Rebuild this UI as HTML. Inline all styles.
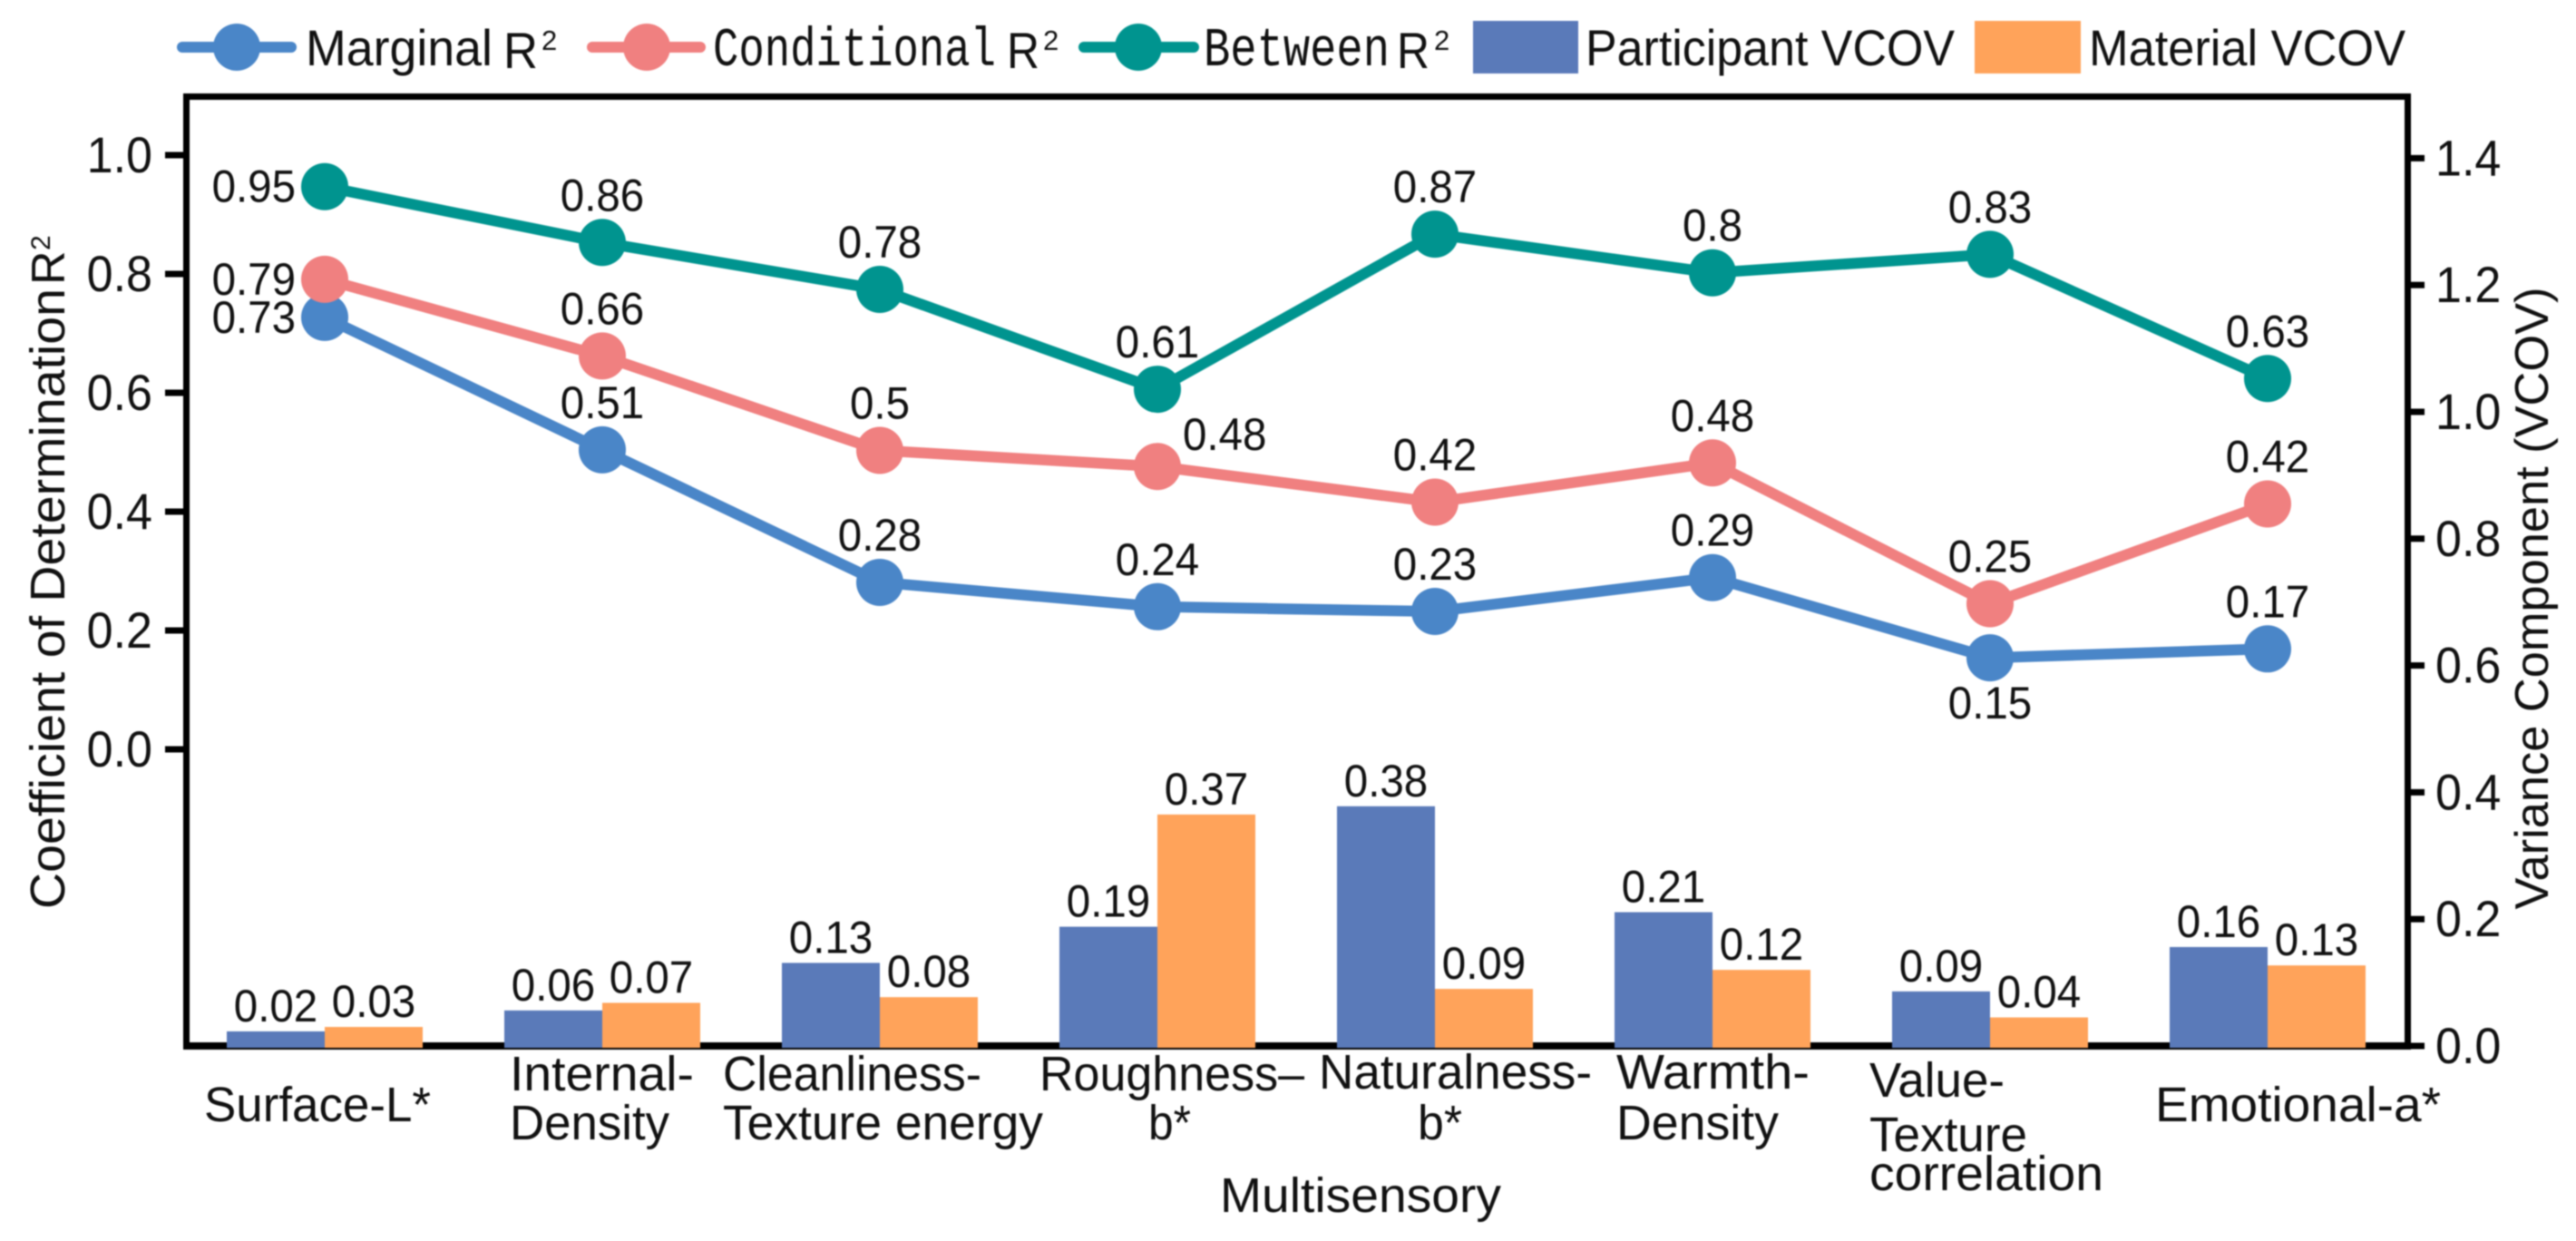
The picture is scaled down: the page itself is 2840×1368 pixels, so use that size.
<!DOCTYPE html>
<html lang="en">
<head>
<meta charset="utf-8">
<title>Multisensory R² and variance components</title>
<style>
html,body{margin:0;padding:0;background:#fff;width:2840px;height:1368px;overflow:hidden}
svg{display:block;filter:blur(0.7px)}
text{font-family:"Liberation Sans",sans-serif;fill:#111}
.mono{font-family:"Liberation Mono",monospace}
</style>
</head>
<body>
<svg id="chart" xmlns="http://www.w3.org/2000/svg" width="2840" height="1368" viewBox="0 0 2840 1368">
  <g id="axes">
    <rect x="202" y="103" width="2456" height="7" fill="#000"/>
    <rect x="202" y="103" width="7" height="1054" fill="#000"/>
    <rect x="2651" y="103" width="7" height="1054" fill="#000"/>
    <rect x="202" y="1149" width="2456" height="8" fill="#000"/>
  </g>
  <g id="left-ticks"></g>
  <g id="right-ticks"></g>
  <g id="bars-top"></g>
  <g id="lines"></g>
  <g id="labels"></g>

  <text transform="translate(71,1002) rotate(-90)" font-size="54" textLength="684" lengthAdjust="spacingAndGlyphs">Coefficient of Determination</text>
  <text transform="translate(71,314) rotate(-90)" font-size="52">R</text>
  <text transform="translate(55,276) rotate(-90)" font-size="30">2</text>
  <text transform="translate(2809,1002.5) rotate(-90)" font-size="52" textLength="686" lengthAdjust="spacingAndGlyphs">Variance Component (VCOV)</text>
  <text x="1345" y="1336" font-size="54" textLength="310" lengthAdjust="spacingAndGlyphs">Multisensory</text>

  <g font-size="54">
    <text x="225" y="1236" textLength="250" lengthAdjust="spacingAndGlyphs">Surface-L*</text>
    <text x="562" y="1202" textLength="203" lengthAdjust="spacingAndGlyphs">Internal-</text>
    <text x="562" y="1256" textLength="176" lengthAdjust="spacingAndGlyphs">Density</text>
    <text x="797" y="1202" textLength="285" lengthAdjust="spacingAndGlyphs">Cleanliness-</text>
    <text x="797" y="1256" textLength="353" lengthAdjust="spacingAndGlyphs">Texture energy</text>
    <text x="1146" y="1202" textLength="292" lengthAdjust="spacingAndGlyphs">Roughness–</text>
    <text x="1266" y="1256" textLength="47" lengthAdjust="spacingAndGlyphs">b*</text>
    <text x="1454" y="1200" textLength="301" lengthAdjust="spacingAndGlyphs">Naturalness-</text>
    <text x="1563" y="1256" textLength="49" lengthAdjust="spacingAndGlyphs">b*</text>
    <text x="1782" y="1200" textLength="213" lengthAdjust="spacingAndGlyphs">Warmth-</text>
    <text x="1782" y="1256" textLength="179" lengthAdjust="spacingAndGlyphs">Density</text>
    <text x="2061" y="1209" textLength="149" lengthAdjust="spacingAndGlyphs">Value-</text>
    <text x="2061" y="1269" textLength="174" lengthAdjust="spacingAndGlyphs">Texture</text>
    <text x="2061" y="1312" textLength="258" lengthAdjust="spacingAndGlyphs">correlation</text>
    <text x="2376" y="1236" textLength="315" lengthAdjust="spacingAndGlyphs">Emotional-a*</text>
  </g>

  <g>
    <g>
      <line x1="201" y1="52" x2="321" y2="52" stroke="#4a86c8" stroke-width="12" stroke-linecap="round"/>
      <circle cx="261" cy="52" r="26" fill="#4a86c8"/>
      <text x="337" y="72" font-size="56" textLength="206" lengthAdjust="spacingAndGlyphs">Marginal</text>
      <text x="555" y="75" font-size="56" textLength="38" lengthAdjust="spacingAndGlyphs">R</text>
      <text x="597" y="55" font-size="31">2</text>
    </g>
    <g>
      <line x1="653" y1="52" x2="772" y2="52" stroke="#f08080" stroke-width="12" stroke-linecap="round"/>
      <circle cx="713" cy="52" r="26" fill="#f08080"/>
      <text class="mono" x="786" y="72" font-size="60" textLength="312" lengthAdjust="spacingAndGlyphs">Conditional</text>
      <text x="1110" y="75" font-size="56" textLength="36" lengthAdjust="spacingAndGlyphs">R</text>
      <text x="1150" y="55" font-size="31">2</text>
    </g>
    <g>
      <line x1="1195" y1="52" x2="1316" y2="52" stroke="#00948f" stroke-width="12" stroke-linecap="round"/>
      <circle cx="1255" cy="52" r="26" fill="#00948f"/>
      <text class="mono" x="1327" y="72" font-size="60" textLength="205" lengthAdjust="spacingAndGlyphs">Between</text>
      <text x="1540" y="75" font-size="56" textLength="36" lengthAdjust="spacingAndGlyphs">R</text>
      <text x="1581" y="55" font-size="31">2</text>
    </g>
    <g>
      <rect x="1624" y="23" width="116" height="58" fill="#5a7ab9"/>
      <text x="1748" y="72" font-size="56" textLength="407" lengthAdjust="spacingAndGlyphs">Participant VCOV</text>
    </g>
    <g>
      <rect x="2177" y="23" width="117" height="58" fill="#ffa35a"/>
      <text x="2303" y="72" font-size="56" textLength="349" lengthAdjust="spacingAndGlyphs">Material VCOV</text>
    </g>
  </g>
</svg>
<script>
const categories = ['Surface-L*', 'Internal-Density', 'Cleanliness-Texture energy', 'Roughness-b*', 'Naturalness-b*', 'Warmth-Density', 'Value-Texture correlation', 'Emotional-a*'];
const marginal = [0.727, 0.504, 0.281, 0.24, 0.232, 0.289, 0.154, 0.169];
const conditional = [0.791, 0.662, 0.503, 0.476, 0.416, 0.482, 0.245, 0.413];
const between = [0.947, 0.853, 0.774, 0.606, 0.867, 0.802, 0.833, 0.624];
const participantVcov = [0.023, 0.056, 0.131, 0.188, 0.378, 0.211, 0.086, 0.156];
const materialVcov = [0.03, 0.068, 0.077, 0.365, 0.09, 0.12, 0.045, 0.127];
const marginalLabels = ['0.73', '0.51', '0.28', '0.24', '0.23', '0.29', '0.15', '0.17'];
const conditionalLabels = ['0.79', '0.66', '0.5', '0.48', '0.42', '0.48', '0.25', '0.42'];
const betweenLabels = ['0.95', '0.86', '0.78', '0.61', '0.87', '0.8', '0.83', '0.63'];
const participantLabels = ['0.02', '0.06', '0.13', '0.19', '0.38', '0.21', '0.09', '0.16'];
const materialLabels = ['0.03', '0.07', '0.08', '0.37', '0.09', '0.12', '0.04', '0.13'];
const leftTicks = [0, 0.2, 0.4, 0.6, 0.8, 1.0];
const rightTicks = [0, 0.2, 0.4, 0.6, 0.8, 1.0, 1.2, 1.4];

const SVGNS = 'http://www.w3.org/2000/svg';
function xPos(i) { return 358 + 306 * i; }
function yLeft(v) { return 826 - 655 * v; }
function yRight(v) { return 1153 - 699 * v; }
function make(parent, tag, attrs, text) {
  const node = document.createElementNS(SVGNS, tag);
  for (const k in attrs) node.setAttribute(k, attrs[k]);
  if (text !== undefined) node.textContent = text;
  parent.appendChild(node);
  return node;
}
function narrow(x, y, sx) { return 'translate(' + x + ',' + y + ') scale(' + sx + ',1)'; }

const ltGroup = document.getElementById('left-ticks');
leftTicks.forEach(function (t) {
  const y = yLeft(t);
  const tick = make(ltGroup, 'rect', { x: 182, y: y - 3.5, width: 22, height: 7, fill: '#000' });
  
  
  const lab = make(ltGroup, 'text', { transform: narrow(168, y + 19, 0.93), 'font-size': 56, 'text-anchor': 'end' }, t.toFixed(1));
  
  
});

const rtGroup = document.getElementById('right-ticks');
rightTicks.forEach(function (t) {
  const y = yRight(t);
  const tick = make(rtGroup, 'rect', { x: 2656, y: y - 3.5, width: 17, height: 7, fill: '#000' });
  
  
  const lab = make(rtGroup, 'text', { transform: narrow(2685, y + 19, 0.93), 'font-size': 56 }, t.toFixed(1));
  
  
});

const barsGroup = document.getElementById('bars-top');
const labelGroup = document.getElementById('labels');
const BAR_W = 108;
function drawBars(values, texts, color, side, name) {
  values.forEach(function (v, i) {
    const left = xPos(i) + (side < 0 ? -BAR_W : 0);
    const top = yRight(v);
    const bar = make(barsGroup, 'rect', { x: left, y: top, width: BAR_W, height: yRight(0) + 2 - top, fill: color });
    
    
    const lab = make(labelGroup, 'text', { transform: narrow(left + BAR_W / 2, top - 11, 0.95), 'font-size': 50, 'text-anchor': 'middle' }, texts[i]);
    
    
  });
}
drawBars(participantVcov, participantLabels, '#5a7ab9', -1, 'participant');
drawBars(materialVcov, materialLabels, '#ffa35a', 1, 'material');

function labelPlacement(name, i, cx, cy) {
  if (i === 0) {
    return { x: 326, y: cy + 17, anchor: 'end' };
  }
  if (name === 'conditional' && i === 3) {
    return { x: cx + 28, y: cy - 18, anchor: 'start' };
  }
  if (name === 'marginal' && i === 6) {
    return { x: cx, y: cy + 67, anchor: 'middle' };
  }
  return { x: cx, y: cy - 35, anchor: 'middle' };
}

const lineGroup = document.getElementById('lines');
function drawSeries(values, texts, color, name) {
  const pts = values.map(function (v, i) { return xPos(i) + ',' + yLeft(v); }).join(' ');
  const line = make(lineGroup, 'polyline', { points: pts, fill: 'none', stroke: color, 'stroke-width': 12, 'stroke-linejoin': 'round' });
  
  
  values.forEach(function (v, i) {
    const cx = xPos(i), cy = yLeft(v);
    const pt = make(lineGroup, 'circle', { cx: cx, cy: cy, r: 26, fill: color });
    
    
    const p = labelPlacement(name, i, cx, cy);
    const lab = make(labelGroup, 'text', { transform: narrow(p.x, p.y, 0.95), 'font-size': 50, 'text-anchor': p.anchor }, texts[i]);
    
    
  });
}
drawSeries(marginal, marginalLabels, '#4a86c8', 'marginal');
drawSeries(conditional, conditionalLabels, '#f08080', 'conditional');
drawSeries(between, betweenLabels, '#00948f', 'between');
</script>
</body>
</html>
